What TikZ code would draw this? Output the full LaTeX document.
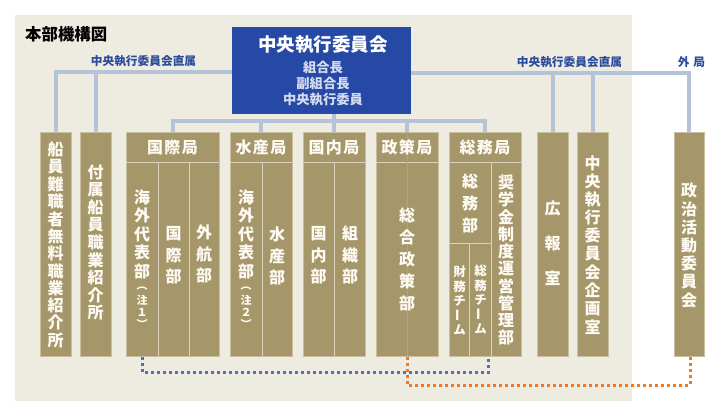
\documentclass[tikz,border=0pt]{standalone}
\usepackage{fontspec}
\setmainfont{Noto Sans CJK JP}
\definecolor{bgc}{HTML}{EEEBE0}
\definecolor{boxfill}{HTML}{A6976A}
\definecolor{boxedge}{HTML}{C9BF9F}
\definecolor{divc}{HTML}{DAD2BA}
\definecolor{faintc}{HTML}{B3A57E}
\definecolor{connc}{HTML}{B4C3D8}
\definecolor{ceoc}{HTML}{2549A4}
\definecolor{lblc}{HTML}{2B4C9C}
\definecolor{subc}{HTML}{D5DCEF}
\definecolor{txtc}{HTML}{FDFBF4}
\definecolor{dotblue}{HTML}{4F72C0}
\definecolor{dotorange}{HTML}{EE7A24}
\newcommand\jvc[3]{\hbox to 40pt{\hss\vbox to #2pt{\vss\hbox{\fontsize{#1pt}{#1pt}\selectfont #3}\vss}\hss}}
\makeatletter
\newcommand\jvstack[3]{\@tfor\jv@c:=#3\do{\jvc{#1}{#2}{\jv@c}}}
\makeatother
\newcommand\vt[3]{\vbox{\offinterlineskip\jvstack{#1}{#2}{#3}}}
\tikzset{
  unit/.style={draw=boxedge, fill=boxfill, line width=0.8pt, inner sep=0pt, anchor=north west},
  conn/.style={draw=connc, line width=4pt},
  divl/.style={draw=divc, line width=0.9pt},
  vtxt/.style={text=txtc, inner sep=0pt, font=\bfseries},
  hdr/.style={text=txtc, inner sep=0pt, font=\fontsize{16pt}{16pt}\selectfont\bfseries},
  lbl/.style={text=lblc, inner sep=0pt, font=\fontsize{11.7pt}{12pt}\selectfont\bfseries},
  bdot/.style={draw=dotblue, line width=3pt, dash pattern=on 3pt off 3pt},
  odot/.style={draw=dotorange, line width=3pt, dash pattern=on 3pt off 3pt},
}
\begin{document}
\begin{tikzpicture}[x=1pt,y=-1pt]
\useasboundingbox (0,0) rectangle (720,416);
\fill[white] (0,0) rectangle (720,416);
\fill[bgc] (15,15) rectangle (632,401);
\node[anchor=west, inner sep=0pt, font=\fontsize{16.4pt}{17pt}\selectfont\bfseries] (title) at (25,34) {本部機構図};

% executive committee
\node[fill=ceoc, minimum width=179pt, minimum height=87pt, anchor=north west, inner sep=0pt] (ceo) at (232,27) {};
\node[text=white, inner sep=0pt, font=\fontsize{18.5pt}{19pt}\selectfont\bfseries] (ceo-t) at (323,45) {中央執行委員会};
\node[text=subc, inner sep=0pt, font=\fontsize{13.3pt}{14pt}\selectfont\bfseries] (ceo-s1) at (323,67) {組合長};
\node[text=subc, inner sep=0pt, font=\fontsize{13.3pt}{14pt}\selectfont\bfseries] (ceo-s2) at (323,83) {副組合長};
\node[text=subc, inner sep=0pt, font=\fontsize{13.3pt}{14pt}\selectfont\bfseries] (ceo-s3) at (323,99.5) {中央執行委員};

% labels
\node[lbl] (lblL) at (143.5,61) {中央執行委員会直属};
\node[lbl] (lblR) at (569.5,62) {中央執行委員会直属};
\node[lbl] (lblG) at (691.5,62) {外\,\,局};

% boxes
\node[unit, minimum width=31pt, minimum height=224pt] (senin) at (40,132) {};
\node[unit, minimum width=31pt, minimum height=224pt] (fuzoku) at (80,132) {};
\node[unit, minimum width=93pt, minimum height=224pt] (kokusai) at (126,132) {};
\node[unit, minimum width=62pt, minimum height=224pt] (suisan) at (230,132) {};
\node[unit, minimum width=62pt, minimum height=224pt] (kokunai) at (303,132) {};
\node[unit, minimum width=62pt, minimum height=224pt] (seisaku) at (376,132) {};
\node[unit, minimum width=72pt, minimum height=224pt] (soumu) at (449,132) {};
\node[unit, minimum width=31pt, minimum height=224pt] (kouhou) at (537,132) {};
\node[unit, minimum width=31pt, minimum height=224pt] (kikaku) at (577,132) {};
\node[unit, minimum width=30pt, minimum height=224pt] (seiji) at (674,132) {};

% dividers
\draw[divl] (126.4,162) -- (218.6,162);
\draw[divl] (158,162) -- (158,355.6);
\draw[divl] (189,162) -- (189,355.6);
\draw[divl] (230.4,162) -- (291.6,162);
\draw[divl] (262,162) -- (262,355.6);
\draw[divl] (303.4,162) -- (364.6,162);
\draw[divl] (334.5,162) -- (334.5,355.6);
\draw[divl] (376.4,162) -- (437.6,162);
\draw[faintc, line width=0.6pt] (407,132.4) -- (407,355.6);
\draw[divl] (449.4,162) -- (520.6,162);
\draw[divl] (491,162) -- (491,355.6);
\draw[divl] (449.4,243) -- (491,243);
\draw[divl] (469.5,243) -- (469.5,355.6);

% texts
\node[vtxt] (senin-t) at (55.5,245) {\vt{16}{17.3}{船員難職者無料職業紹介所}};
\node[vtxt] (fuzoku-t) at (95.5,242.5) {\vt{16}{17.6}{付属船員職業紹介所}};

\node[hdr] (kokusai-h) at (172.5,147.5) {国\kern1.5pt 際\kern1.5pt 局};
\node[vtxt] (kaigai1) at (142,259) {\vbox{\offinterlineskip\jvstack{16}{18.5}{海外代表部}\kern2pt\jvstack{11}{12}{︵注１︶}}};
\node[vtxt] (kokusaibu) at (173.5,255) {\vt{16}{21.5}{国際部}};
\node[vtxt] (gaikoubu) at (204,254) {\vt{16}{21.5}{外航部}};

\node[hdr] (suisan-h) at (261,147.5) {水\kern1.5pt 産\kern1.5pt 局};
\node[vtxt] (kaigai2) at (246,259) {\vbox{\offinterlineskip\jvstack{16}{18.5}{海外代表部}\kern2pt\jvstack{11}{12}{︵注２︶}}};
\node[vtxt] (suisanbu) at (277,256) {\vt{16}{21.5}{水産部}};

\node[hdr] (kokunai-h) at (334,147.5) {国\kern1.5pt 内\kern1.5pt 局};
\node[vtxt] (kokunaibu) at (318.5,255) {\vt{16}{21.5}{国内部}};
\node[vtxt] (soshikibu) at (350,255) {\vt{16}{21.5}{組織部}};

\node[hdr] (seisaku-h) at (407,147.5) {政\kern1.5pt 策\kern1.5pt 局};
\node[vtxt] (sougou) at (407,259) {\vt{16}{22}{総合政策部}};

\node[hdr] (soumu-h) at (485,147.5) {総\kern1.5pt 務\kern1.5pt 局};
\node[vtxt] (soumubu) at (470,203) {\vt{16}{22}{総務部}};
\node[vtxt] (zaimu) at (459.5,301) {\vt{12.5}{14.5}{財務チ{\rotatebox[origin=c]{90}{ー}}ム}};
\node[vtxt] (soumut) at (480.5,300) {\vt{12.5}{14.5}{総務チ{\rotatebox[origin=c]{90}{ー}}ム}};
\node[vtxt] (shougaku) at (506,260) {\vt{16}{17.3}{奨学金制度運営管理部}};

\node[vtxt] (kouhou-t) at (552.5,243) {\vt{16}{35}{広報室}};
\node[vtxt] (kikaku-t) at (592.5,245) {\vt{16}{18.2}{中央執行委員会企画室}};
\node[vtxt] (seiji-t) at (689,245.5) {\vt{16}{18.2}{政治活動委員会}};

% connectors
\coordinate (mid) at ([yshift=-6.5pt]ceo.south);
\coordinate (lj) at ([yshift=-1.5pt]ceo.west);
\coordinate (rj) at ([yshift=-2.5pt]ceo.east);
\draw[conn] (lj) -| (senin.north);
\draw[conn] (fuzoku.north |- lj) -- (fuzoku.north);
\draw[conn] (rj) -| (seiji.north);
\draw[conn] (kouhou.north |- rj) -- (kouhou.north);
\draw[conn] (kikaku.north |- rj) -- (kikaku.north);
\draw[conn] (kokusai.north) |- (mid) -| (soumu.north);
\draw[conn] (suisan.north) -- (suisan.north |- mid);
\draw[conn] (seisaku.north) -- (seisaku.north |- mid);
\draw[conn] (kokunai.north) -- (kokunai.north |- ceo.south);

% dotted links
\coordinate (yb) at (0,372);
\coordinate (yo) at (0,385);
\coordinate (bend) at ([xshift=3.3pt]soumu.south);
\coordinate (oend) at ([xshift=1pt]seiji.south);
\draw[bdot] (kaigai1 |- kokusai.south) -- (kaigai1 |- yb) -| (bend);
\draw[odot] (seisaku.south) -- (seisaku.south |- yo) -| (oend);
\end{tikzpicture}
\end{document}
